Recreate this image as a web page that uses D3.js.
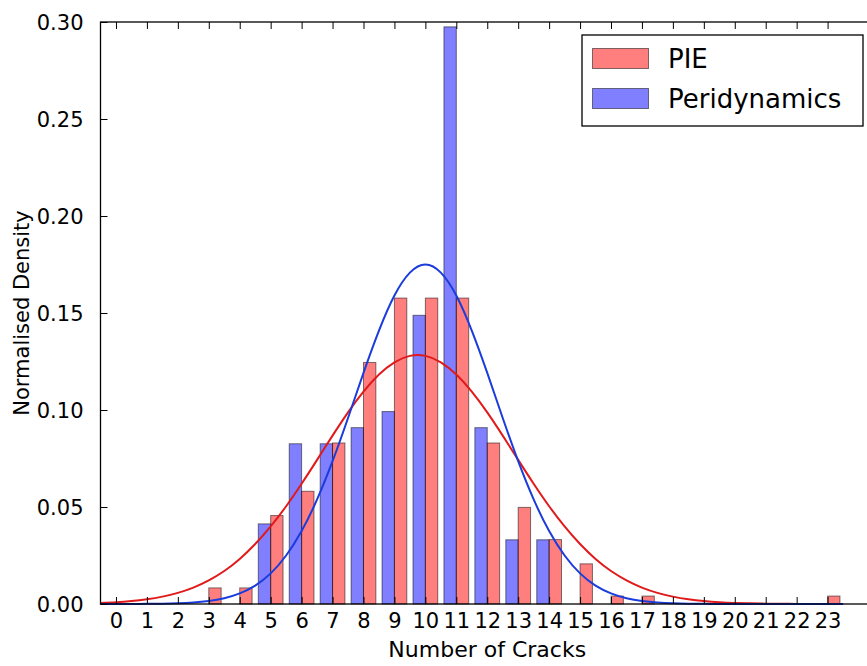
<!DOCTYPE html>
<html>
<head>
<meta charset="utf-8">
<script src="https://cdn.jsdelivr.net/npm/d3@7"></script>
<style>
  html, body { margin: 0; padding: 0; background: #fff; }
  svg { display: block; }
  text { font-family: "DejaVu Sans", sans-serif; fill: #000; }
</style>
</head>
<body>
<svg id="chart" width="867" height="666"></svg>
<script>
// ---- data ----
const categories = [0,1,2,3,4,5,6,7,8,9,10,11,12,13,14,15,16,17,18,19,20,21,22,23];
const pieDensity = [0,0,0,0.0083,0.0083,0.0456,0.0581,0.0830,0.1245,0.1577,0.1577,0.1577,0.0830,0.0498,0.0332,0.0207,0.0041,0.0041,0,0,0,0,0,0.0041];
const periDensity = [0,0,0,0,0,0.0413,0.0826,0.0826,0.0909,0.0992,0.1488,0.2975,0.0909,0.0331,0.0331,0,0,0,0,0,0,0,0,0];
// fitted-curve samples, every half unit from -0.5 to 23.5
const curveX = [-0.5,0,0.5,1,1.5,2,2.5,3,3.5,4,4.5,5,5.5,6,6.5,7,7.5,8,8.5,9,9.5,10,10.5,11,11.5,12,12.5,13,13.5,14,14.5,15,15.5,16,16.5,17,17.5,18,18.5,19,19.5,20,20.5,21,21.5,22,22.5,23,23.5];
const pieFit = [0.00056,0.00094,0.00154,0.00245,0.00380,0.00575,0.00847,0.01218,0.0170,0.02323,0.0309,0.0400,0.0504,0.0620,0.0743,0.0868,0.0988,0.1095,0.1183,0.1246,0.1279,0.1279,0.1246,0.1183,0.1095,0.0988,0.0868,0.0743,0.0620,0.0504,0.0400,0.0309,0.0232,0.0170,0.0122,0.00847,0.00575,0.00380,0.00245,0.00154,0.00094,0.00056,0.00033,0.00018,0.0001,0.00005,0.00002,0.00001,0];
const periFit = [0,0.00001,0.00003,0.00007,0.00017,0.00037,0.00078,0.00157,0.0030,0.00549,0.0095,0.0158,0.0250,0.0376,0.0539,0.0736,0.0959,0.1191,0.1409,0.1590,0.1708,0.1750,0.1708,0.1590,0.1409,0.1191,0.0959,0.0736,0.0539,0.0376,0.0250,0.0158,0.0095,0.00549,0.0030,0.00157,0.00078,0.00037,0.00017,0.00007,0.00003,0.00001,0,0,0,0,0,0,0];
const yTicks = [0.00,0.05,0.10,0.15,0.20,0.25,0.30];
const seriesNames = ["PIE", "Peridynamics"];
const xLabel = "Number of Cracks";
const yLabel = "Normalised Density";

// ---- layout ----
const svg = d3.select("#chart");
const L = 100.5, R = 874, T = 22, B = 604;
const x = d3.scaleLinear().domain([-0.5, 24.5]).range([L, R]);
const y = d3.scaleLinear().domain([0, 0.30]).range([B, T]);
const barW = 0.4;

// bars
const g = svg.append("g");
g.selectAll("rect.peri").data(categories.filter((c,i)=>periDensity[i]>0))
  .enter().append("rect").attr("class","peri")
  .attr("x", c => x(c - barW))
  .attr("width", c => x(c) - x(c - barW))
  .attr("y", c => y(periDensity[c]))
  .attr("height", c => y(0) - y(periDensity[c]))
  .attr("fill", "blue").attr("fill-opacity", 0.5)
  .attr("stroke", "black").attr("stroke-opacity", 0.5).attr("stroke-width", 1);

g.selectAll("rect.pie").data(categories.filter((c,i)=>pieDensity[i]>0))
  .enter().append("rect").attr("class","pie")
  .attr("x", c => x(c))
  .attr("width", c => x(c + barW) - x(c))
  .attr("y", c => y(pieDensity[c]))
  .attr("height", c => y(0) - y(pieDensity[c]))
  .attr("fill", "red").attr("fill-opacity", 0.5)
  .attr("stroke", "black").attr("stroke-opacity", 0.5).attr("stroke-width", 1);

// fitted curves
const line = d3.line().x(d => x(d[0])).y(d => Math.min(y(d[1]), B)).curve(d3.curveNatural);
svg.append("path").datum(curveX.map((v,i)=>[v, pieFit[i]]))
  .attr("d", line).attr("fill","none").attr("stroke","#e01a1a").attr("stroke-width",2);
svg.append("path").datum(curveX.map((v,i)=>[v, periFit[i]]))
  .attr("d", line).attr("fill","none").attr("stroke","#1a3cdc").attr("stroke-width",2);

// frame
svg.append("rect").attr("x", L).attr("y", T).attr("width", R - L).attr("height", B - T)
  .attr("fill","none").attr("stroke","#000").attr("stroke-width",1.3);

// axes (ticks inside, classic style)
const tickLen = 7;
const xAxisB = d3.axisBottom(x).tickValues(categories).tickSize(-tickLen).tickPadding(tickLen + 5).tickFormat(d3.format("d"));
const gxb = svg.append("g").attr("transform", `translate(0,${B})`).call(xAxisB);
gxb.select(".domain").remove();
gxb.selectAll("text").attr("font-size", 21).attr("font-family", "DejaVu Sans").attr("dy", null).attr("y", 24);

const xAxisT = d3.axisTop(x).tickValues(categories).tickSize(-tickLen).tickFormat("");
const gxt = svg.append("g").attr("transform", `translate(0,${T})`).call(xAxisT);
gxt.select(".domain").remove();

const yAxisL = d3.axisLeft(y).tickValues(yTicks).tickSize(-tickLen).tickPadding(tickLen + 10).tickFormat(d3.format(".2f"));
const gyl = svg.append("g").attr("transform", `translate(${L},0)`).call(yAxisL);
gyl.select(".domain").remove();
gyl.selectAll("text").attr("font-size", 21).attr("font-family", "DejaVu Sans").attr("dy", "0.35em");

svg.selectAll(".tick line").attr("stroke", "#000").attr("stroke-width", 1);

// axis labels
svg.append("text").attr("x", (L + R) / 2).attr("y", 657).attr("text-anchor","middle")
  .attr("font-size", 22).text(xLabel);
svg.append("text").attr("transform", `translate(29,${(T + B) / 2}) rotate(-90)`)
  .attr("text-anchor","middle").attr("font-size", 21).text(yLabel);

// legend
const lg = svg.append("g");
lg.append("rect").attr("x", 582).attr("y", 35).attr("width", 281).attr("height", 91)
  .attr("fill","#fff").attr("stroke","#000").attr("stroke-width",1.3);
const legendColors = ["red","blue"];
seriesNames.forEach((name, i) => {
  const yy = 48.5 + i * 40;
  lg.append("rect").attr("x", 592.5).attr("y", yy).attr("width", 56).attr("height", 20)
    .attr("fill", legendColors[i]).attr("fill-opacity", 0.5)
    .attr("stroke","black").attr("stroke-opacity",0.5).attr("stroke-width",1);
  lg.append("text").attr("x", 668).attr("y", yy + 19).attr("font-size", 26).text(name);
});
</script>
</body>
</html>
